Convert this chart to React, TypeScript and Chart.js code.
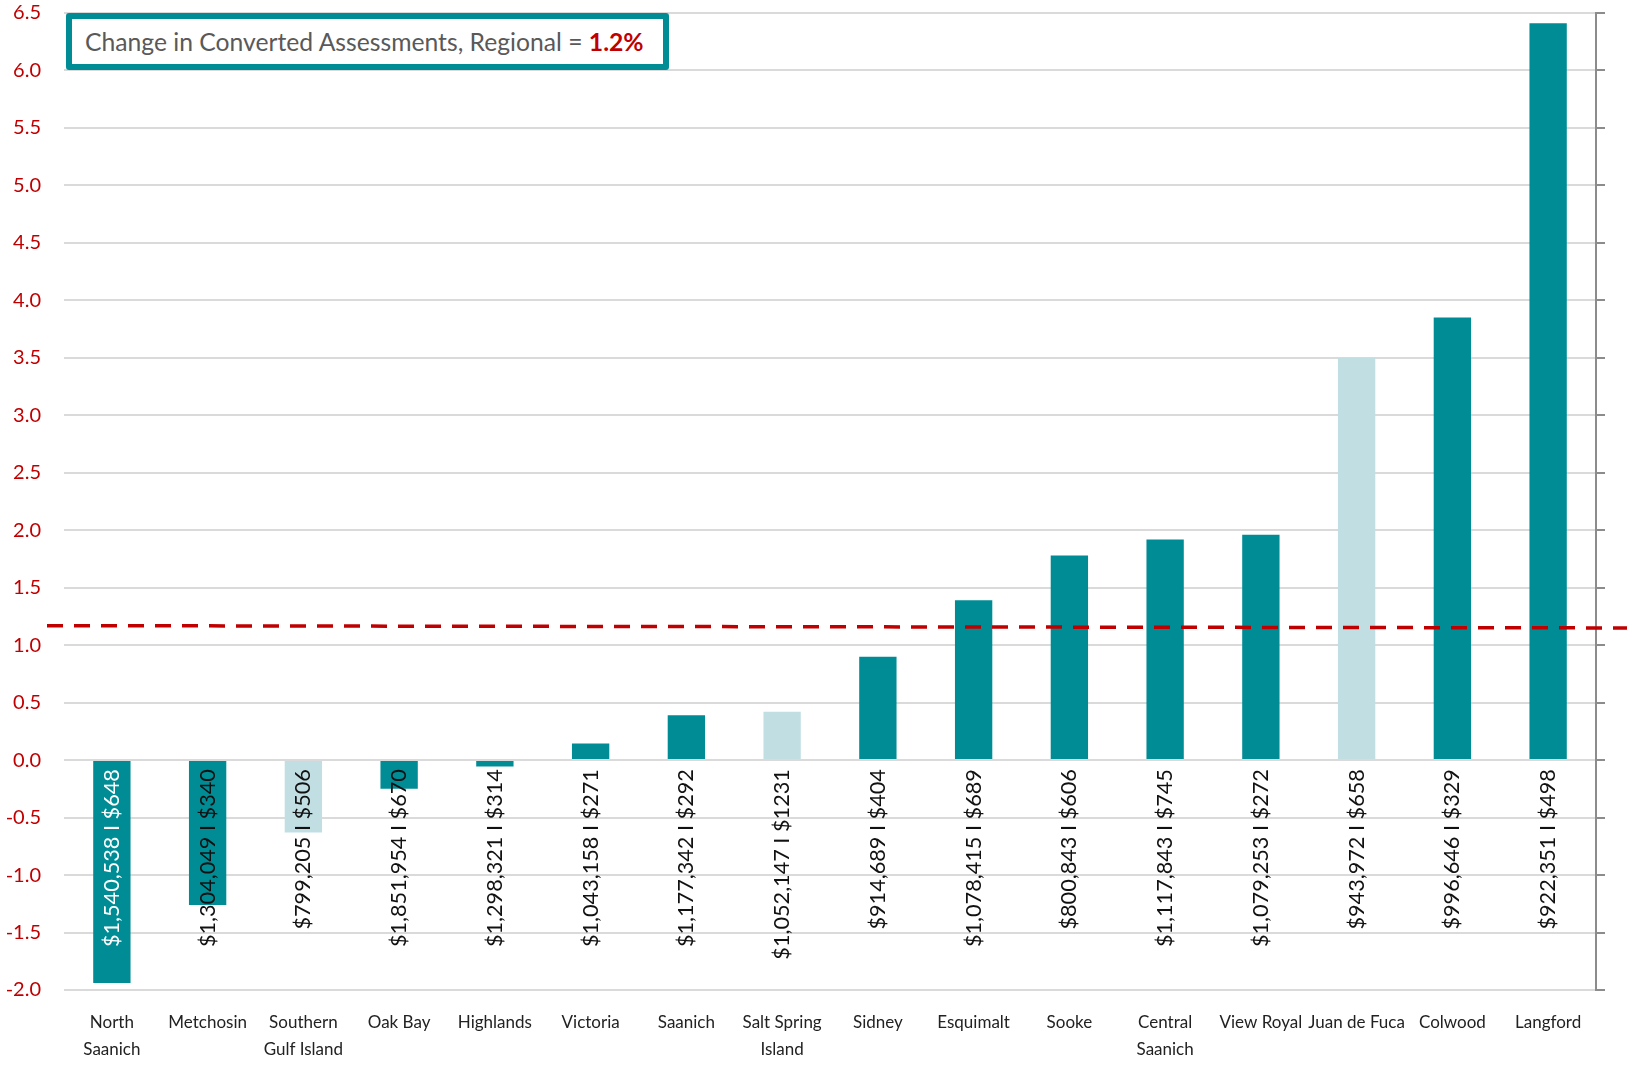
import React, { useEffect, useRef } from "react";
import { Chart, registerables } from "chart.js";

Chart.register(...registerables);

const categories = [
  "North\nSaanich",
  "Metchosin",
  "Southern\nGulf Island",
  "Oak Bay",
  "Highlands",
  "Victoria",
  "Saanich",
  "Salt Spring\nIsland",
  "Sidney",
  "Esquimalt",
  "Sooke",
  "Central\nSaanich",
  "View Royal",
  "Juan de Fuca",
  "Colwood",
  "Langford",
];

const changePct = [-1.94, -1.26, -0.63, -0.25, -0.055, 0.145, 0.39, 0.42, 0.9, 1.39, 1.78, 1.92, 1.96, 3.5, 3.85, 6.41];

const avgAssessment = [
  "$1,540,538", "$1,304,049", "$799,205", "$1,851,954", "$1,298,321", "$1,043,158", "$1,177,342", "$1,052,147",
  "$914,689", "$1,078,415", "$800,843", "$1,117,843", "$1,079,253", "$943,972", "$996,646", "$922,351",
];

const taxChange = [
  "$648", "$340", "$506", "$670", "$314", "$271", "$292", "$1231",
  "$404", "$689", "$606", "$745", "$272", "$658", "$329", "$498",
];

const electoralAreas = ["Southern\nGulf Island", "Salt Spring\nIsland", "Juan de Fuca"];
const whiteLabelCategories = ["North\nSaanich"];

const regionalLabel = "1.2%";
const regionalLineStart = 1.17;
const regionalLineEnd = 1.15;

const yMin = -2.0;
const yMax = 6.5;
const yStep = 0.5;

const TEAL = "#008C95";
const LIGHT = "#C1DFE3";
const RED = "#C00000";
const FONT = "Lato, 'Open Sans', sans-serif";

const valueLabelPlugin = {
  id: "valueLabels",
  afterDatasetsDraw(chart: any) {
    const ctx = chart.ctx;
    const meta = chart.getDatasetMeta(0);
    const y0 = chart.scales.y.getPixelForValue(0) + 9;
    ctx.save();
    ctx.font = `21.7px ${FONT}`;
    ctx.textAlign = "right";
    ctx.textBaseline = "middle";
    meta.data.forEach((el: any, i: number) => {
      ctx.save();
      ctx.translate(el.x, y0);
      ctx.rotate(-Math.PI / 2);
      ctx.fillStyle = whiteLabelCategories.includes(categories[i]) ? "#FFFFFF" : "#111111";
      ctx.fillText(`${avgAssessment[i]} I ${taxChange[i]}`, 0, 0);
      ctx.restore();
    });
    ctx.restore();
  },
};

const regionalLinePlugin = {
  id: "regionalLine",
  afterDraw(chart: any) {
    const ctx = chart.ctx;
    const ys = chart.scales.y;
    ctx.save();
    ctx.strokeStyle = RED;
    ctx.lineWidth = 3.5;
    ctx.setLineDash([16, 11]);
    ctx.beginPath();
    ctx.moveTo(47, ys.getPixelForValue(regionalLineStart));
    ctx.lineTo(chart.width, ys.getPixelForValue(regionalLineEnd));
    ctx.stroke();
    ctx.restore();
  },
};

export default function App() {
  const canvasRef = useRef<HTMLCanvasElement | null>(null);

  useEffect(() => {
    document.body.style.margin = "0";
    const canvas = canvasRef.current;
    if (!canvas) return;
    const chart = new Chart(canvas, {
      type: "bar",
      data: {
        labels: categories.map((c) => (c.includes("\n") ? c.split("\n") : c)),
        datasets: [
          {
            data: changePct,
            backgroundColor: categories.map((c) => (electoralAreas.includes(c) ? LIGHT : TEAL)),
            borderWidth: 0,
            barPercentage: 0.39,
            categoryPercentage: 1,
          },
        ],
      },
      options: {
        responsive: false,
        animation: false,
        layout: { padding: { top: 13, left: 0, right: 0, bottom: 0 } },
        plugins: {
          legend: { display: false },
          tooltip: { enabled: false },
        },
        scales: {
          x: {
            grid: { display: false },
            border: { display: false },
            ticks: {
              color: "#222222",
              font: { family: FONT, size: 17, lineHeight: 1.6 },
              padding: 11,
              maxRotation: 0,
              minRotation: 0,
              autoSkip: false,
            },
            afterFit(scale: any) {
              scale.height = 80;
              scale.paddingLeft = 0;
              scale.paddingRight = 0;
            },
          },
          y: {
            position: "left",
            min: yMin,
            max: yMax,
            grid: { color: "#DADADA", lineWidth: 2, drawTicks: false },
            border: { display: false },
            ticks: {
              stepSize: yStep,
              color: RED,
              padding: 23,
              font: { family: FONT, size: 20 },
              callback: (v: any) => Number(v).toFixed(1),
            },
            afterFit(scale: any) {
              scale.width = 64;
              scale.paddingTop = 0;
              scale.paddingBottom = 0;
            },
          },
          y2: {
            position: "right",
            min: yMin,
            max: yMax,
            grid: { drawOnChartArea: false, drawTicks: true, tickLength: 9, color: "#8C8C8C", lineWidth: 2 },
            border: { display: true, color: "#8C8C8C", width: 2 },
            ticks: { stepSize: yStep, display: false },
            afterFit(scale: any) {
              scale.width = 31;
              scale.paddingTop = 0;
              scale.paddingBottom = 0;
            },
          },
        },
      },
      plugins: [valueLabelPlugin, regionalLinePlugin],
    });
    return () => chart.destroy();
  }, []);

  return (
    <div style={{ position: "relative", width: 1627, height: 1070, background: "#FFFFFF" }}>
      <canvas ref={canvasRef} width={1627} height={1070} style={{ display: "block", width: 1627, height: 1070 }} />
      <div
        style={{
          position: "absolute",
          left: 66,
          top: 13,
          width: 603,
          height: 57,
          boxSizing: "border-box",
          border: `6px solid ${TEAL}`,
          borderRadius: 3,
          background: "#FFFFFF",
          display: "flex",
          alignItems: "center",
          paddingLeft: 13,
          fontFamily: FONT,
          fontSize: 24.7,
          color: "#595959",
          whiteSpace: "nowrap",
        }}
      >
        <span>
          Change in Converted Assessments, Regional = <b style={{ color: RED }}>{regionalLabel}</b>
        </span>
      </div>
    </div>
  );
}
